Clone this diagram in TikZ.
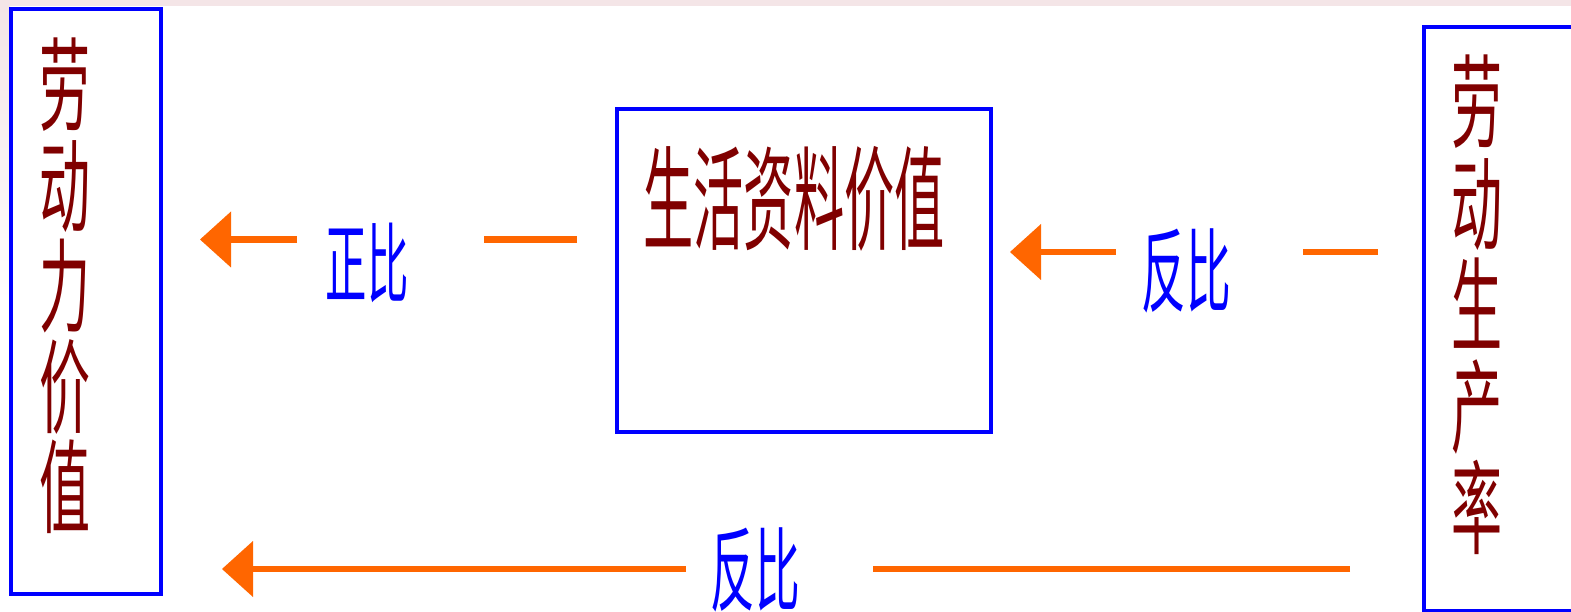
\documentclass[tikz,border=0pt]{standalone}
\usepackage{fontspec}
\newfontfamily\cjk{Noto Sans CJK SC}
\usepackage{tikz}
\usetikzlibrary{arrows.meta}
\definecolor{wordred}{RGB}{128,0,0}
\definecolor{boxblue}{RGB}{0,0,255}
\definecolor{arrorange}{RGB}{255,102,0}
\definecolor{bgpink}{RGB}{244,229,231}

\begin{document}
\begin{tikzpicture}[x=1pt, y=-1pt,
    box/.style={draw=boxblue, line width=4pt, outer sep=0pt, anchor=north west},
    word/.style={text=wordred, inner sep=0pt, align=center},
    ratio/.style 2 args={text=boxblue, inner sep=0pt, font=\cjk\fontsize{#1}{#1}\selectfont, xscale=#2},
    seg/.style={draw=arrorange, line width=6.5pt},
    arr/.style={seg, -{Triangle[length=31pt, width=56pt, line width=0pt]}}]
    \useasboundingbox (0,0) rectangle (1571,612);
    % slide background
    \fill[bgpink] (0,0) rectangle (1571,6);
    \shade[top color=bgpink, bottom color=white] (0,6) rectangle (10,300);

    % the three boxes
    \node[box, minimum width=150pt, minimum height=585pt] (lbox) at (11.3,9) {};
    \node[box, minimum width=374pt, minimum height=323pt] (mbox) at (616.5,109) {};
    \node[box, minimum width=152pt, minimum height=583pt] (rbox) at (1423.5,27.5) {};

    \node[word, font=\cjk\fontsize{102}{100.5}\selectfont, xscale=0.5] (lword) at (64.5,286) {劳\\动\\力\\价\\值};
    \node[word, font=\cjk\fontsize{113}{113}\selectfont, xscale=0.444] (mword) at (794,199) {生活资料价值};
    \node[word, font=\cjk\fontsize{102}{101.5}\selectfont, xscale=0.5] (rword) at (1476.5,305) {劳\\动\\生\\产\\率};

    % labels on the arrows
    \node[ratio={88}{0.47}] (zheng) at (367,263) {正比};
    \node[ratio={92}{0.486}] (fanup) at (1186.5,270.5) {反比};
    \node[ratio={92}{0.486}] (fandown) at (755.5,569.5) {反比};

    % arrows, cut where the labels stand
    \coordinate (z1) at (577,239.5);
    \coordinate (z2) at (484,239.5);
    \coordinate (z3) at (297,239.5);
    \coordinate (z4) at (200,239.5);
    \draw[seg] (z1) -- (z2);
    \draw[arr] (z3) -- (z4);

    \coordinate (f1) at (1378,252);
    \coordinate (f2) at (1303,252);
    \coordinate (f3) at (1116,252);
    \coordinate (f4) at (1010,252);
    \draw[seg] (f1) -- (f2);
    \draw[arr] (f3) -- (f4);

    \coordinate (g1) at (1350,569);
    \coordinate (g2) at (873,569);
    \coordinate (g3) at (686,569);
    \coordinate (g4) at (222,569);
    \draw[seg] (g1) -- (g2);
    \draw[arr] (g3) -- (g4);
\end{tikzpicture}
\end{document}
